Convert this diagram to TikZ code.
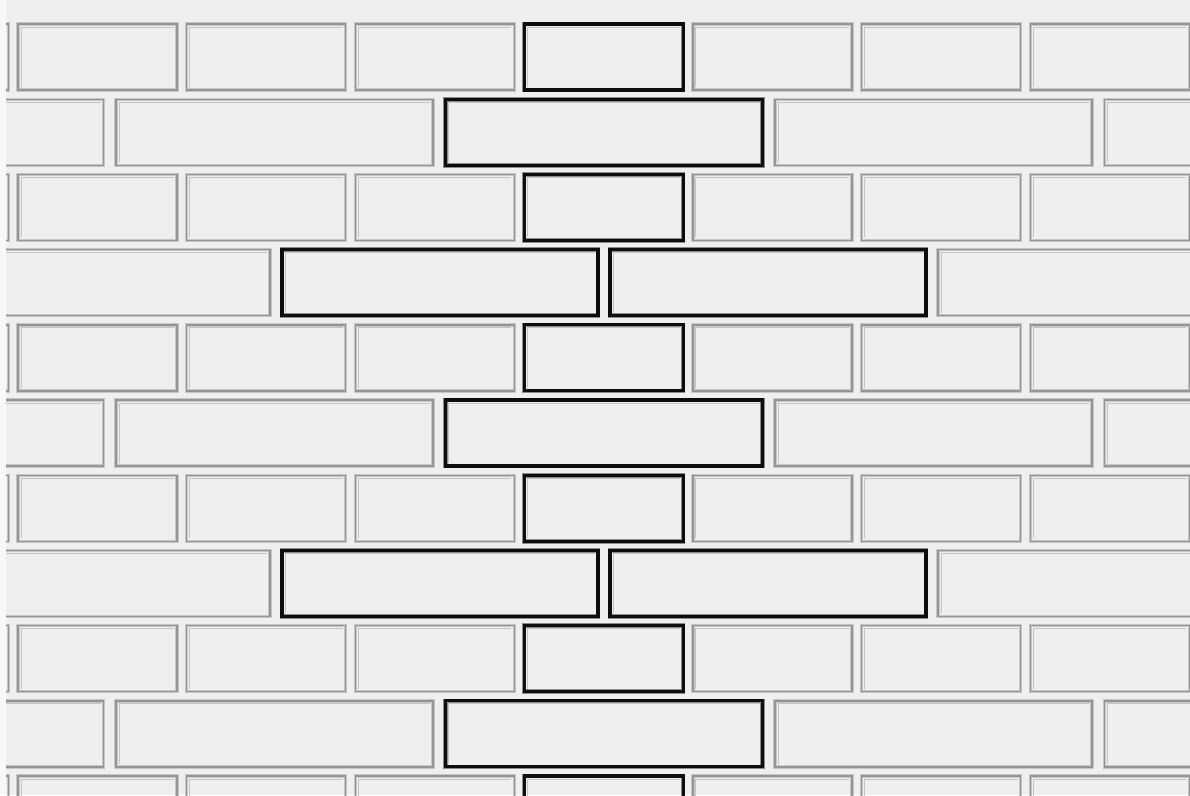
\documentclass[tikz,border=0pt]{standalone}
\usepackage{tikz}
\definecolor{WallGray}{HTML}{EFEFEF}
\definecolor{EdgeGray}{HTML}{959595}
\definecolor{HaloGray}{HTML}{C6C6C6}
\definecolor{SideGray}{HTML}{C4C4C4}
\definecolor{MarginWhite}{HTML}{F8F8F8}
\tikzset{
    lightbrick/.style={draw=EdgeGray, line width=1.4pt, preaction={draw=HaloGray, line width=3.4pt}},
    darkbrick/.style={draw=black!95, line width=3.1pt, preaction={draw=black!45, line width=4.6pt}},
    brickshade/.style={draw=SideGray, line width=1pt},
}

\begin{document}
\begin{tikzpicture}[x=1pt, y=-1pt]
    % Page and wall
    \useasboundingbox (0,0) rectangle (1190,795);
    \fill[WallGray] (0,0) rectangle (1190,795);
    \fill[MarginWhite] (0,0) rectangle (6,795);
    \clip (6,0) rectangle (1190,795);

    % Rows of short bricks (one dark brick in the middle)
    \foreach \r in {0,2,...,10}
      \foreach \j/\kind in {-1/lightbrick,0/lightbrick,1/lightbrick,2/lightbrick,3/darkbrick,4/lightbrick,5/lightbrick,6/lightbrick} {
        \pgfmathsetmacro\bx{18+168.7*\j}
        \pgfmathsetmacro\by{24+75.2*\r}
        \draw[brickshade] ({\bx+3},{\by+63}) |- ({\bx+156},{\by+3});
        \draw[\kind] (\bx,\by) rectangle +(159,66);
      }

    % Rows of long bricks, centred on the joint line
    \foreach \r in {1,5,9}
      \foreach \j/\kind in {-1/lightbrick,0/lightbrick,1/darkbrick,2/lightbrick,3/lightbrick} {
        \pgfmathsetmacro\bx{116+329.5*\j}
        \pgfmathsetmacro\by{24+75.2*\r}
        \draw[brickshade] ({\bx+3},{\by+63}) |- ({\bx+314},{\by+3});
        \draw[\kind] (\bx,\by) rectangle +(317,66);
      }

    % Rows of long bricks, split at the joint line
    \foreach \r in {3,7}
      \foreach \j/\kind in {-1/lightbrick,0/darkbrick,1/darkbrick,2/lightbrick} {
        \pgfmathsetmacro\bx{282+328*\j}
        \pgfmathsetmacro\by{24+75.2*\r}
        \draw[brickshade] ({\bx+3},{\by+63}) |- ({\bx+313},{\by+3});
        \draw[\kind] (\bx,\by) rectangle +(316,66);
      }

\end{tikzpicture}
\end{document}
